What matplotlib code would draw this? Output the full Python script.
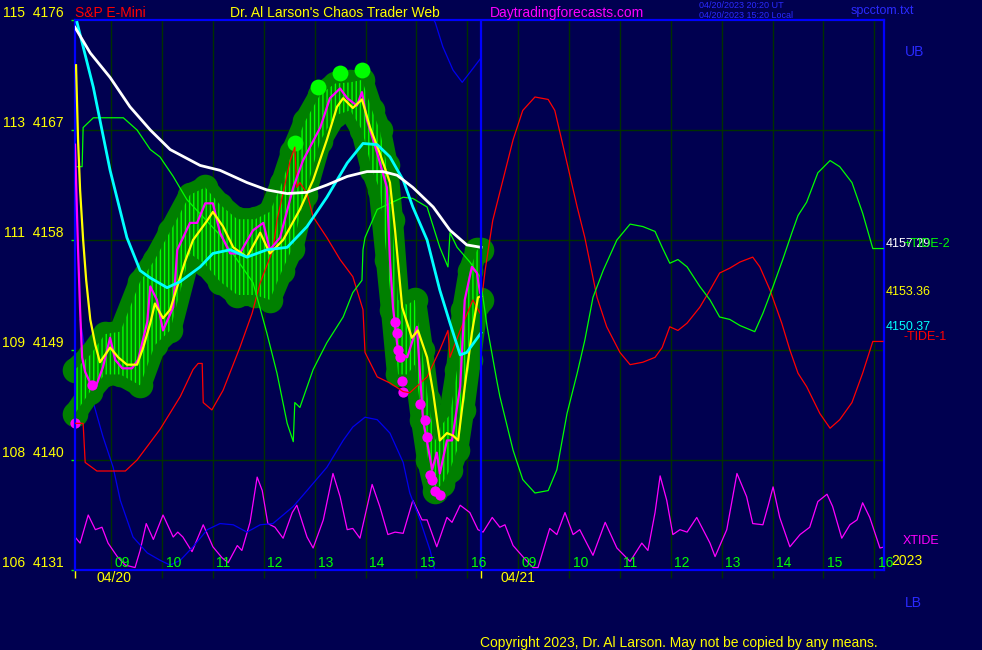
import matplotlib.pyplot as plt
import matplotlib.transforms as mtransforms

plt.rcParams['font.family'] = ['Liberation Sans', 'DejaVu Sans']
plt.rcParams['hatch.linewidth'] = 1.0

BG = '#000050'
W, H = 982, 650

# x axis is in session hours; 04/21 09:00 is drawn at 17
hour_pos = list(range(9, 25))
hour_labels = ['09', '10', '11', '12', '13', '14', '15', '16'] * 2
day_start = [8.29, 16.27]
date_pos = [9.06, 17.0]
date_labels = ['04/20', '04/21']
now_x = 16.27

y_ticks = [4131, 4140, 4149, 4158, 4167, 4176]
y_labels = ['106  4131', '108  4140', '109  4149', '111  4158', '113  4167', '115  4176']

# price bars (range of the light green bars)
bar_x = [8.29, 8.59, 8.88, 9.18, 9.57, 9.86, 10.16, 10.55, 10.85, 11.14, 11.48, 11.83, 12.12,
         12.36, 12.56, 12.81, 13.11, 13.40, 13.70, 13.93, 14.13, 14.28, 14.42, 14.52, 14.64,
         14.82, 14.97, 15.11, 15.23, 15.37, 15.50, 15.66, 15.80, 15.92, 16.05, 16.19, 16.27]
bar_hi = [4147.4, 4148.6, 4150.3, 4150.5, 4154.6, 4156.4, 4158.7, 4161.7, 4162.3, 4160.9,
          4159.7, 4159.7, 4160.3, 4162.7, 4165.2, 4167.7, 4169.9, 4170.8, 4170.9, 4171.1,
          4168.6, 4167.0, 4164.1, 4159.6, 4153.1, 4152.7, 4153.1, 4149.0, 4144.9, 4141.6,
          4142.9, 4143.7, 4147.4, 4152.3, 4155.5, 4157.2, 4157.2]
bar_lo = [4143.8, 4145.6, 4147.0, 4147.0, 4146.1, 4149.4, 4150.6, 4156.9, 4156.0, 4154.6,
          4153.5, 4153.5, 4153.1, 4155.5, 4157.3, 4161.7, 4166.1, 4168.2, 4168.6, 4167.0,
          4163.7, 4162.1, 4156.4, 4152.3, 4147.0, 4147.0, 4147.8, 4143.3, 4140.0, 4137.5,
          4138.0, 4139.2, 4140.8, 4144.1, 4148.2, 4152.7, 4153.1]

# bright highs and magenta low marks
top_x = [12.61, 13.07, 13.50, 13.93]
top_y = [4165.9, 4170.5, 4171.7, 4171.9]
low_x = [8.29, 8.63, 14.58, 14.62, 14.64, 14.68, 14.72, 14.74, 15.07, 15.17, 15.21, 15.27,
         15.31, 15.37, 15.46]
low_y = [4143.0, 4146.1, 4151.3, 4150.4, 4149.0, 4148.4, 4146.5, 4145.6, 4144.6, 4143.3,
         4141.9, 4138.8, 4138.4, 4137.5, 4137.1]

# fast average (magenta)
mag_x = [8.29, 8.35, 8.39, 8.43, 8.49, 8.59, 8.69, 8.84, 8.98, 9.08, 9.22, 9.41, 9.53, 9.71,
         9.77, 9.90, 10.02, 10.22, 10.30, 10.55, 10.69, 10.85, 11.00, 11.14, 11.34, 11.53,
         11.79, 11.99, 12.12, 12.32, 12.58, 12.77, 13.11, 13.30, 13.50, 13.64, 13.83, 13.93,
         14.03, 14.23, 14.42, 14.48, 14.54, 14.64, 14.82, 15.01, 15.13, 15.31, 15.40, 15.46,
         15.60, 15.70, 15.86, 15.95, 16.09, 16.19, 16.25]
mag_y = [4165.8, 4157.2, 4152.3, 4148.4, 4147.2, 4146.3, 4145.9, 4147.6, 4150.0, 4148.2,
         4147.5, 4147.5, 4148.2, 4151.3, 4154.2, 4153.1, 4150.6, 4152.5, 4157.2, 4159.4,
         4159.4, 4161.0, 4161.0, 4158.6, 4156.9, 4156.9, 4158.8, 4159.4, 4157.2, 4158.2,
         4162.3, 4164.5, 4167.2, 4169.6, 4170.4, 4169.6, 4169.0, 4170.1, 4167.8, 4165.1,
         4162.3, 4156.4, 4152.5, 4148.8, 4148.4, 4150.9, 4143.3, 4139.2, 4140.6, 4138.9,
         4141.6, 4141.6, 4146.0, 4153.1, 4155.8, 4155.3, 4153.7]

# yellow average
yel_x = [8.31, 8.35, 8.39, 8.45, 8.51, 8.59, 8.69, 8.78, 8.98, 9.14, 9.31, 9.51, 9.63, 9.77,
         9.86, 10.02, 10.16, 10.30, 10.45, 10.61, 10.89, 11.00, 11.20, 11.40, 11.67, 11.93,
         12.12, 12.38, 12.71, 12.97, 13.24, 13.44, 13.56, 13.75, 13.93, 14.09, 14.28, 14.48,
         14.58, 14.72, 14.91, 15.03, 15.21, 15.33, 15.46, 15.60, 15.72, 15.82, 15.95, 16.09,
         16.21, 16.27]
yel_y = [4172.3, 4166.2, 4162.1, 4158.0, 4154.7, 4151.5, 4149.4, 4148.0, 4149.2, 4148.4,
         4147.8, 4147.8, 4149.2, 4151.2, 4152.8, 4151.6, 4152.3, 4154.2, 4156.2, 4158.0,
         4159.6, 4160.3, 4159.1, 4157.4, 4156.6, 4158.6, 4156.9, 4158.0, 4160.5, 4162.9,
         4166.2, 4168.9, 4169.6, 4168.8, 4169.5, 4167.2, 4165.1, 4162.7, 4158.8, 4152.5,
         4150.0, 4150.6, 4148.4, 4145.5, 4141.6, 4142.2, 4142.0, 4141.6, 4146.0, 4150.4,
         4153.3, 4153.4]

# cyan average
cyan_x = [8.33, 8.65, 8.98, 9.31, 9.57, 9.77, 10.10, 10.36, 10.75, 11.00, 11.34, 11.67, 12.06,
          12.46, 12.85, 13.24, 13.64, 13.95, 14.23, 14.48, 14.74, 14.93, 15.21, 15.46, 15.66,
          15.86, 15.99, 16.27]
cyan_y = [4175.8, 4170.5, 4163.7, 4158.2, 4155.5, 4154.9, 4154.1, 4154.6, 4155.8, 4156.9,
          4157.2, 4156.6, 4157.2, 4157.4, 4159.1, 4161.5, 4164.3, 4165.9, 4165.8, 4164.8,
          4162.9, 4160.7, 4158.0, 4153.9, 4151.2, 4148.6, 4148.8, 4150.4]

# white average
white_x = [8.29, 8.59, 8.98, 9.37, 9.77, 10.16, 10.75, 11.14, 11.67, 12.06, 12.46, 12.85,
           13.24, 13.64, 14.03, 14.34, 14.62, 14.93, 15.33, 15.66, 15.99, 16.27]
white_y = [4175.4, 4173.3, 4171.3, 4168.9, 4167.0, 4165.4, 4164.1, 4163.7, 4162.7, 4162.1,
           4161.8, 4161.9, 4162.5, 4163.2, 4163.6, 4163.6, 4163.3, 4162.3, 4160.7, 4158.8,
           4157.6, 4157.4]

# -TIDE-1 (red)
tide1_x = [8.29, 8.45, 8.49, 8.72, 9.28, 9.51, 9.96, 10.36, 10.61, 10.71, 10.79, 10.81, 10.98,
           11.20, 11.53, 11.77, 11.93, 12.18, 12.26, 12.52, 12.61, 12.65, 12.71, 12.85, 12.97,
           13.24, 13.50, 13.75, 13.95, 13.99, 14.23, 14.48, 14.74, 14.87, 15.21, 15.46, 15.62,
           15.66, 15.86, 16.11, 16.25, 16.35, 16.50, 16.70, 16.90, 17.09, 17.33, 17.59, 17.72,
           17.96, 18.16, 18.31, 18.55, 18.74, 19.00, 19.20, 19.45, 19.69, 19.83, 19.98, 20.14,
           20.32, 20.57, 20.77, 20.96, 21.16, 21.36, 21.61, 21.75, 21.95, 22.18, 22.34, 22.50,
           22.67, 22.93, 23.13, 23.32, 23.56, 23.77, 23.97, 24.17]
tide1_y = [4143.0, 4143.0, 4139.8, 4139.1, 4139.1, 4140.0, 4142.5, 4145.2, 4147.4, 4147.9,
           4147.9, 4144.7, 4144.1, 4145.7, 4149.2, 4152.0, 4154.5, 4157.2, 4159.6, 4164.5,
           4165.6, 4162.3, 4162.7, 4161.8, 4159.9, 4158.2, 4156.4, 4155.0, 4152.3, 4148.8,
           4146.8, 4146.3, 4145.6, 4145.5, 4146.8, 4149.0, 4150.6, 4148.4, 4150.6, 4153.1,
           4152.0, 4155.5, 4159.6, 4162.9, 4166.2, 4168.6, 4169.7, 4169.5, 4168.6, 4164.3,
           4160.7, 4158.2, 4153.3, 4150.9, 4148.8, 4147.8, 4148.0, 4148.4, 4149.2, 4150.9,
           4150.6, 4151.2, 4152.5, 4153.9, 4155.3, 4155.7, 4156.2, 4156.6, 4155.8, 4153.9,
           4151.2, 4149.0, 4147.1, 4146.0, 4143.8, 4142.6, 4143.3, 4144.7, 4147.1, 4149.7,
           4149.7]

# +TIDE-2 (green)
tide2_x = [8.33, 8.43, 8.45, 8.65, 9.24, 9.51, 9.77, 9.96, 10.22, 10.49, 11.14, 11.79, 12.06,
           12.26, 12.46, 12.58, 12.61, 12.71, 12.97, 13.24, 13.56, 13.75, 13.93, 13.95, 13.99,
           14.23, 14.48, 14.74, 14.93, 15.21, 15.46, 15.62, 15.66, 15.80, 16.05, 16.25, 16.39,
           16.58, 16.64, 16.90, 17.09, 17.33, 17.59, 17.76, 17.96, 18.16, 18.31, 18.47, 18.67,
           18.94, 19.20, 19.45, 19.69, 19.83, 19.98, 20.14, 20.32, 20.57, 20.77, 20.96, 21.16,
           21.36, 21.65, 21.81, 22.01, 22.20, 22.38, 22.50, 22.67, 22.89, 23.13, 23.32, 23.56,
           23.77, 23.97, 24.21]
tide2_y = [4164.0, 4164.0, 4167.2, 4168.0, 4168.0, 4167.0, 4165.4, 4164.8, 4163.2, 4161.3,
           4158.4, 4154.5, 4150.4, 4147.1, 4143.0, 4141.5, 4144.7, 4144.3, 4147.4, 4149.6,
           4151.7, 4153.7, 4154.7, 4157.2, 4158.2, 4160.5, 4161.0, 4161.5, 4161.4, 4160.7,
           4157.4, 4155.8, 4158.6, 4157.4, 4156.2, 4155.0, 4150.9, 4146.5, 4145.2, 4140.8,
           4138.4, 4137.3, 4137.5, 4139.2, 4143.8, 4147.1, 4149.8, 4153.3, 4155.5, 4158.0,
           4159.3, 4159.1, 4158.7, 4157.4, 4156.1, 4156.4, 4155.8, 4154.2, 4153.1, 4151.7,
           4151.5, 4151.0, 4150.5, 4152.0, 4154.2, 4156.4, 4158.6, 4160.0, 4161.1, 4163.5,
           4164.5, 4164.0, 4162.7, 4160.2, 4157.3, 4157.3]

# blue band line, lower part and the part that re-enters at the top
blue_low_x = [8.39, 8.65, 8.84, 9.04, 9.18, 9.43, 9.71, 9.96, 10.16, 10.36, 10.61, 10.89,
              11.14, 11.40, 11.67, 11.93, 12.18, 12.58, 12.85, 13.24, 13.56, 13.75, 13.99,
              14.23, 14.48, 14.74, 14.87, 15.07, 15.27, 15.37]
blue_low_y = [4151.5, 4144.7, 4141.9, 4139.4, 4136.7, 4133.7, 4132.4, 4131.8, 4131.4, 4131.8,
              4132.9, 4134.3, 4134.8, 4134.7, 4134.1, 4134.7, 4134.8, 4136.2, 4137.5, 4139.4,
              4141.6, 4142.7, 4143.5, 4143.3, 4142.2, 4139.8, 4137.3, 4135.1, 4132.6, 4130.8]
blue_top_x = [15.31, 15.37, 15.52, 15.72, 15.90, 16.05, 16.27]
blue_top_y = [4176.2, 4175.8, 4173.8, 4171.9, 4170.9, 4171.7, 4172.9]

# XTIDE (magenta, bottom)
xtide_x = [8.29, 8.39, 8.55, 8.69, 8.82, 8.94, 9.12, 9.28, 9.47, 9.57, 9.69, 9.83, 10.02,
           10.22, 10.31, 10.41, 10.59, 10.81, 11.00, 11.18, 11.30, 11.48, 11.57, 11.73, 11.87,
           11.97, 12.08, 12.22, 12.38, 12.56, 12.65, 12.85, 12.97, 13.17, 13.36, 13.50, 13.64,
           13.75, 13.89, 14.13, 14.28, 14.44, 14.58, 14.74, 14.93, 15.11, 15.21, 15.40, 15.60,
           15.70, 15.86, 16.05, 16.21, 16.31, 16.49, 16.64, 16.74, 16.90, 17.09, 17.29, 17.39,
           17.62, 17.76, 17.92, 18.08, 18.21, 18.47, 18.71, 18.94, 19.20, 19.43, 19.55, 19.69,
           19.79, 19.92, 20.04, 20.18, 20.32, 20.51, 20.77, 20.87, 21.10, 21.30, 21.49, 21.61,
           21.81, 21.91, 22.01, 22.14, 22.34, 22.54, 22.73, 22.89, 23.07, 23.18, 23.36, 23.52,
           23.66, 23.77, 23.91, 24.11, 24.21]
xtide_y = [4133.7, 4133.2, 4135.5, 4134.3, 4134.5, 4133.2, 4132.1, 4131.4, 4131.2, 4132.6,
           4134.8, 4133.5, 4135.5, 4133.7, 4134.1, 4133.7, 4132.5, 4134.7, 4132.9, 4132.0,
           4131.6, 4133.0, 4132.6, 4134.9, 4138.6, 4137.5, 4134.8, 4134.5, 4133.6, 4135.7,
           4136.3, 4133.7, 4132.8, 4135.1, 4138.9, 4137.0, 4134.3, 4134.4, 4133.6, 4138.0,
           4136.2, 4133.9, 4134.1, 4134.0, 4136.7, 4135.1, 4135.1, 4132.9, 4135.3, 4134.9,
           4136.3, 4135.7, 4134.3, 4134.1, 4135.3, 4134.5, 4134.7, 4133.0, 4132.1, 4131.2,
           4131.2, 4134.4, 4133.9, 4135.7, 4133.9, 4134.3, 4132.2, 4134.9, 4132.8, 4131.7,
           4133.2, 4132.6, 4135.7, 4138.7, 4136.7, 4133.9, 4134.3, 4134.1, 4135.3, 4133.2,
           4132.1, 4134.3, 4138.9, 4137.0, 4134.8, 4134.7, 4136.2, 4137.8, 4135.3, 4132.9,
           4133.9, 4134.5, 4136.6, 4137.2, 4136.2, 4133.6, 4134.7, 4135.1, 4136.5, 4135.3,
           4132.8, 4132.9]

fig = plt.figure(figsize=(W / 100, H / 100), dpi=100, facecolor=BG)
ax = fig.add_axes([75 / W, 80 / H, 809 / W, 550 / H], facecolor=BG)
ax.set_xlim(8.29, 24.19)
ax.set_ylim(4131, 4176)

# grid and ticks
GRID = '#003000'
ax.set_axisbelow(True)
ax.set_xticks(hour_pos, minor=True)
ax.set_xticks(day_start)
ax.set_xticklabels([])
ax.grid(True, which='minor', axis='x', color=GRID, lw=1)
ax.set_yticks(y_ticks)
ax.set_yticklabels(y_labels)
ax.grid(True, which='major', axis='y', color=GRID, lw=1)
ax.tick_params(axis='x', which='major', colors='#ffff00', length=6, width=1)
ax.tick_params(axis='x', which='minor', colors=GRID, length=6, width=1)
ax.tick_params(axis='y', colors='#00ff00', labelcolor='#ffff00', length=3, width=1,
               pad=5, labelsize=10)
for lab in ax.get_yticklabels():
    lab.set_va('bottom')
for s in ax.spines.values():
    s.set_color('#0000ff')
    s.set_linewidth(1.6)

# lines behind the price blob
ax.plot(xtide_x, xtide_y, color='#ff00ff', lw=0.9, zorder=1.5)
ax.plot(blue_low_x, blue_low_y, color='#0000ee', lw=0.9, zorder=1.5)
ax.plot(blue_top_x, blue_top_y, color='#0000ee', lw=0.9, zorder=1.5)

# price blob: dark green halo with light green bars
ax.fill_between(bar_x, bar_lo, bar_hi, color='#008000', lw=0, zorder=2, clip_on=False)
for yy in (bar_hi, bar_lo):
    ax.plot(bar_x, yy, color='#008000', lw=16, solid_capstyle='round',
            solid_joinstyle='round', zorder=2, clip_on=False)
    ax.scatter(bar_x, yy, s=340, color='#008000', lw=0, zorder=2, clip_on=False)
ax.fill_between(bar_x, bar_lo, bar_hi, facecolor='none', edgecolor='#00ff00',
                hatch='||||', lw=0, zorder=2.2)
ax.scatter(top_x, top_y, s=130, color='#00ff00', lw=0, zorder=2.3)
ax.scatter(low_x, low_y, s=55, color='#ff00ff', lw=0, zorder=2.4, clip_on=False)

# tides and averages
ax.plot(tide1_x, tide1_y, color='#ff0000', lw=0.9, zorder=4)
ax.plot(tide2_x, tide2_y, color='#00ff00', lw=0.9, zorder=4)
ax.plot(mag_x, mag_y, color='#ff00ff', lw=1.6, zorder=5)
ax.plot(yel_x, yel_y, color='#ffff00', lw=1.6, zorder=5.5)
ax.plot(cyan_x, cyan_y, color='#00ffff', lw=2, zorder=6)
ax.plot(white_x, white_y, color='white', lw=2, zorder=6)
ax.axvline(now_x, color='#0000ff', lw=1.6, zorder=7)

# hour and date labels
bt = mtransforms.blended_transform_factory(ax.transData, ax.transAxes)
for h, lab in zip(hour_pos, hour_labels):
    ax.text(h + 0.07, 0.0127, lab, transform=bt, color='#00ff00', fontsize=10,
            ha='left', va='center', zorder=8)
for d, lab in zip(date_pos, date_labels):
    ax.text(d, -0.0145, lab, transform=bt, color='#ffff00', fontsize=10,
            ha='center', va='center')


def put(px, py, s, color, size):
    fig.text(px / W, 1 - py / H, s, color=color, fontsize=size, ha='left', va='center')


BLUE_TXT = '#2a2aff'
put(75, 13, 'S&P E-Mini', '#ff0000', 10)
put(230, 13, "Dr. Al Larson's Chaos Trader Web", '#ffff00', 10)
put(490, 13, 'Daytradingforecasts.com', '#ff00ff', 10)
put(699, 6, '04/20/2023 20:20 UT', BLUE_TXT, 6.5)
put(699, 15, '04/20/2023 15:20 Local', BLUE_TXT, 6.5)
put(851, 11, 'spcctom.txt', BLUE_TXT, 9)
put(905, 52, 'UB', BLUE_TXT, 10)
put(886, 244, '4157.29', 'white', 9)
put(903, 244, '+TIDE-2', '#00ff00', 9)
put(886, 292, '4153.36', '#ffff00', 9)
put(886, 327, '4150.37', '#00ffff', 9)
put(903, 337, '-TIDE-1', '#ff0000', 9)
put(903, 541, 'XTIDE', '#ff00ff', 9)
put(891, 561, '2023', '#ffff00', 10)
put(905, 603, 'LB', BLUE_TXT, 10)
put(480, 643, 'Copyright 2023, Dr. Al Larson. May not be copied by any means.', '#ffff00', 10)

fig.savefig('out.png', dpi=100, facecolor=BG)
